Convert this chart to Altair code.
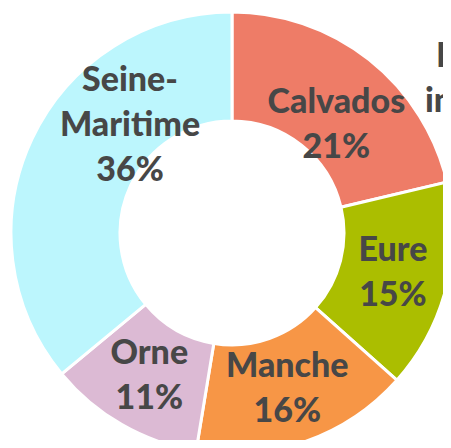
import altair as alt
import pandas as pd

departements = ["Calvados", "Eure", "Manche", "Orne", "Seine-Maritime"]
parts = [21.3, 15.3, 16.0, 11.4, 36.0]
etiquettes = ["Calvados\n21%", "Eure\n15%", "Manche\n16%", "Orne\n11%", "Seine-\nMaritime\n36%"]
couleurs = ["#EE7C67", "#ABBE00", "#F79646", "#DCBAD4", "#BCF6FD"]
titre_lignes = ["Part", "intérim"]

df = pd.DataFrame({"dep": departements, "part": parts, "etiquette": etiquettes})

CX, CY = 224, 225
FONT = "Lato"
FS = 34
LH = 45
TXT = "#474747"

base = alt.Chart(df).transform_window(
    idx="row_number()"
)

arcs = base.mark_arc(
    outerRadius=221, innerRadius=112, stroke="white", strokeWidth=3
).encode(
    theta=alt.Theta("part:Q", stack=True),
    order=alt.Order("idx:Q"),
    color=alt.Color("dep:N", scale=alt.Scale(domain=departements, range=couleurs), legend=None),
    x=alt.value(CX),
    y=alt.value(CY),
)

labels = base.transform_window(
    cum="sum(part)", sort=[alt.SortField("idx")]
).transform_joinaggregate(
    total="sum(part)"
).transform_calculate(
    mid="(datum.cum - datum.part/2 + (datum.dep == 'Calvados' ? 1.6 : datum.dep == 'Seine-Maritime' ? 5.9 : 0)) / datum.total * 2 * PI",
    r="datum.dep == 'Calvados' ? 150 : datum.dep == 'Seine-Maritime' ? 148 : 166",
    n="length(split(datum.etiquette, '\\n'))",
).transform_calculate(
    px=f"{CX} + datum.r * sin(datum.mid)",
    py=f"{CY} - datum.r * cos(datum.mid) - (datum.n - 1) / 2 * {LH}",
).mark_text(
    font=FONT, fontSize=FS, fontWeight=900, color=TXT, lineBreak="\n", lineHeight=LH,
    align="center", baseline="middle"
).encode(
    x=alt.X("px:Q", scale=None, axis=None),
    y=alt.Y("py:Q", scale=None, axis=None),
    text="etiquette:N",
)

titre_df = pd.DataFrame({"t": titre_lignes, "i": [0, 1]})
titre = alt.Chart(titre_df).mark_text(
    font=FONT, fontSize=FS, fontWeight=900, color=TXT, align="left", baseline="alphabetic"
).encode(
    text="t:N",
    x=alt.X("i:Q", scale=alt.Scale(domain=[0, 1], range=[428, 417]), axis=None),
    y=alt.Y("i:Q", scale=alt.Scale(domain=[0, 1], range=[59, 104]), axis=None),
)

chart = alt.layer(arcs, labels, titre).properties(
    width=435, height=432, padding=0, autosize=alt.AutoSizeParams(type="none"),
    background="white",
).configure_view(stroke=None)

chart.save("out.html", embed_options={"renderer": "svg", "actions": False})
